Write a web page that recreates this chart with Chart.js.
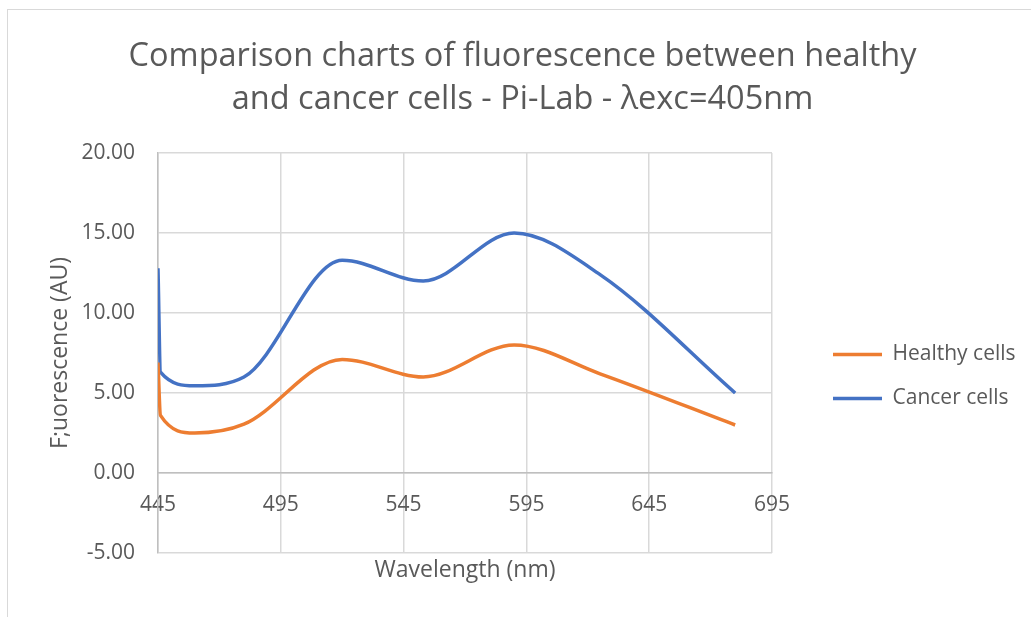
<!DOCTYPE html>
<html>
<head>
<meta charset="utf-8">
<script src="https://cdn.jsdelivr.net/npm/chart.js@4/dist/chart.umd.min.js"></script>
<style>
  html, body { margin: 0; padding: 0; background: #ffffff; }
  #wrap { position: relative; width: 1031px; height: 617px; overflow: hidden; }
  #frame { position: absolute; left: 7px; top: 9px; width: 1100px; height: 700px;
           border: 1px solid #d9d9d9; box-sizing: border-box; }
  canvas { position: absolute; left: 0; top: 0; }
</style>
</head>
<body>
<div id="wrap">
  <div id="frame"></div>
  <canvas id="chart" width="1031" height="617"></canvas>
</div>
<script>
// Fluorescence spectra (excitation 405 nm)
const wavelengths  = [445, 446, 460, 480, 520, 553, 590, 625, 680];
const healthyCells = [6.9, 3.6, 2.5, 3.05, 7.1, 6.0, 8.0, 6.2, 3.0];
const cancerCells  = [12.8, 6.3, 5.45, 6.0, 13.3, 12.0, 15.0, 12.4, 5.0];

const xTicks = [445, 495, 545, 595, 645, 695];
const yTicks = [-5, 0, 5, 10, 15, 20];

const titleLines = ['Comparison charts of fluorescence between healthy',
                    'and cancer cells - Pi-Lab - λexc=405nm'];
const xTitle = 'Wavelength (nm)';
const yTitle = 'F;uorescence (AU)';
const seriesNames = ['Healthy cells', 'Cancer cells'];

const TEXT = '#595959';
const GRID = '#d9d9d9';
const AXIS = '#bfbfbf';
const FONT = '"Open Sans", "DejaVu Sans", sans-serif';

// Legend column: fixed width next to the plot, items set in from its left edge
const LEGEND_WIDTH = 257;
const LEGEND_INSET = 38;
const LEGEND_DROP = 100;

const legendPlacement = {
  id: 'legendPlacement',
  beforeLayout(chart) {
    const lg = chart.legend;
    if (lg && !lg.$fixedFit) {
      const fit = lg.fit;
      lg.fit = function () { fit.call(this); this.width = LEGEND_WIDTH; };
      lg.$fixedFit = true;
    }
  },
  afterLayout(chart) {
    const lg = chart.legend;
    if (!lg) return;
    lg.left += LEGEND_INSET;
    lg.right = chart.width;
    lg.top += LEGEND_DROP;
    lg.bottom += LEGEND_DROP;
  }
};

const toPoints = ys => wavelengths.map((x, i) => ({ x, y: ys[i] }));

new Chart(document.getElementById('chart'), {
  type: 'scatter',
  plugins: [legendPlacement],
  data: {
    datasets: [
      {
        label: seriesNames[0],
        data: toPoints(healthyCells),
        showLine: true,
        borderColor: '#ED7D31',
        backgroundColor: '#ED7D31',
        borderWidth: 3.5,
        pointRadius: 0,
        cubicInterpolationMode: 'monotone'
      },
      {
        label: seriesNames[1],
        data: toPoints(cancerCells),
        showLine: true,
        borderColor: '#4472C4',
        backgroundColor: '#4472C4',
        borderWidth: 3.5,
        pointRadius: 0,
        cubicInterpolationMode: 'monotone'
      }
    ]
  },
  options: {
    responsive: false,
    animation: false,
    events: [],
    layout: { padding: { left: 16, right: 2, top: 0, bottom: 64 } },
    plugins: {
      tooltip: { enabled: false },
      title: {
        display: true,
        text: titleLines,
        color: TEXT,
        font: { family: FONT, size: 32.5, weight: 'normal', lineHeight: 1.323 },
        padding: { top: 35.5, bottom: 31.5 }
      },
      legend: {
        position: 'right',
        align: 'center',
        labels: {
          usePointStyle: true,
          pointStyle: 'line',
          pointStyleWidth: 49,
          padding: 23,
          color: TEXT,
          font: { family: FONT, size: 21 }
        }
      }
    },
    scales: {
      x: {
        type: 'linear',
        position: { y: 0 },
        min: 445,
        max: 695,
        afterBuildTicks: s => { s.ticks = xTicks.map(v => ({ value: v })); },
        grid: { color: GRID, lineWidth: 1.5, drawTicks: false },
        border: { color: AXIS, width: 1.5 },
        ticks: {
          color: TEXT,
          padding: 19,
          maxRotation: 0,
          font: { family: FONT, size: 21 },
          callback: v => String(v)
        },
        title: {
          display: true,
          text: xTitle,
          color: TEXT,
          font: { family: FONT, size: 23 },
          padding: { top: 20, bottom: 0 }
        }
      },
      y: {
        type: 'linear',
        position: 'left',
        min: -5,
        max: 20,
        afterBuildTicks: s => { s.ticks = yTicks.map(v => ({ value: v })); },
        afterFit: s => { s.width = 142; },
        grid: { color: GRID, lineWidth: 1.5, drawTicks: false },
        border: { color: AXIS, width: 1.5 },
        ticks: {
          color: TEXT,
          padding: 23,
          font: { family: FONT, size: 21 },
          callback: v => Number(v).toFixed(2)
        },
        title: {
          display: true,
          text: yTitle,
          color: TEXT,
          font: { family: FONT, size: 23 },
          padding: { top: 31, bottom: 0 }
        }
      }
    }
  }
});
</script>
</body>
</html>
